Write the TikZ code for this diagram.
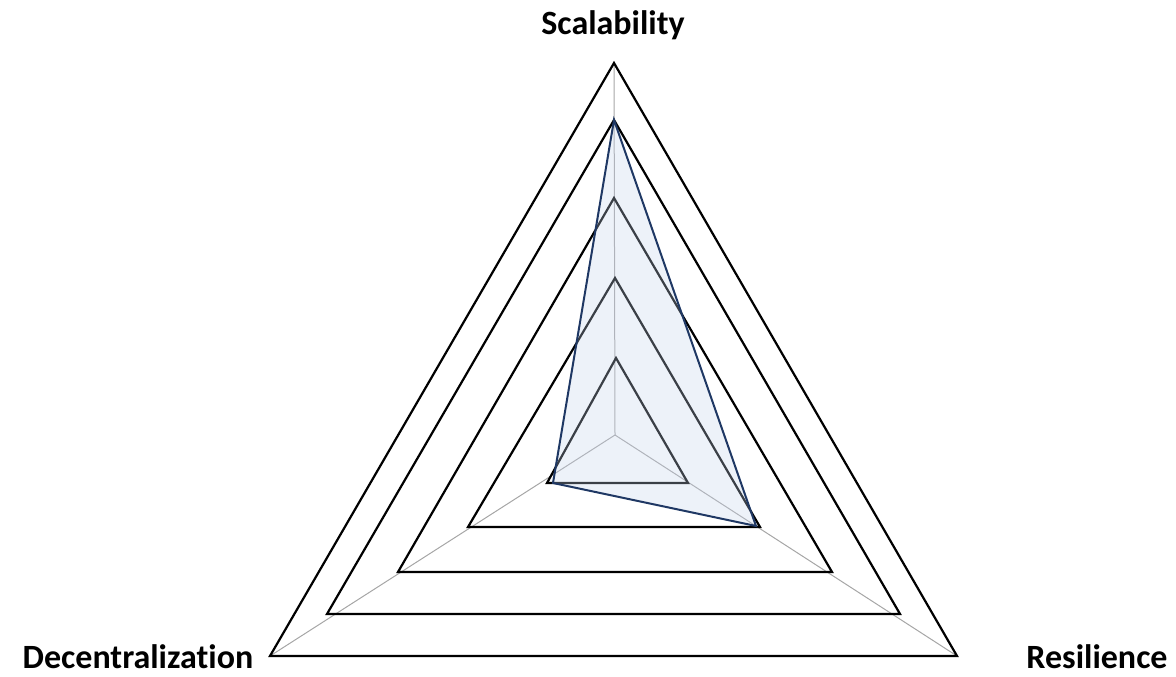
\documentclass[tikz,border=0pt]{standalone}
\usepackage{fontspec}
\setmainfont[Ligatures=NoCommon]{Carlito}
\definecolor{seriesline}{RGB}{31,56,100}
\definecolor{seriesfill}{RGB}{197,212,236}
\definecolor{spokegray}{RGB}{166,166,166}
\begin{document}
\begin{tikzpicture}[x=1pt,y=-1pt,
  gridtri/.style={draw=black,line width=2.2pt,line join=miter},
  spoke/.style={draw=spokegray,line width=1pt},
  series/.style={draw=seriesline,line width=2pt,line join=miter,fill=seriesfill,fill opacity=0.3},
  axislabel/.style={font=\bfseries\fontsize{34}{40}\selectfont,anchor=base,inner sep=0pt,text depth=0pt}]
\useasboundingbox (0,0) rectangle (1176,677);

% chart centre
\coordinate (C) at (615,435);

% grid levels: top, bottom-left, bottom-right corners
\coordinate (T1) at (616,358); \coordinate (L1) at (547,483); \coordinate (R1) at (688,483);
\coordinate (T2) at (615,278); \coordinate (L2) at (468,527); \coordinate (R2) at (760,527);
\coordinate (T3) at (614,198); \coordinate (L3) at (398,572); \coordinate (R3) at (832,572);
\coordinate (T4) at (614,120); \coordinate (L4) at (327,614); \coordinate (R4) at (900,614);
\coordinate (T5) at (614,63);  \coordinate (L5) at (270,656); \coordinate (R5) at (957,656);

% data points (scalability, decentralization, resilience)
\coordinate (D1) at (614,120);
\coordinate (D2) at (553,483);
\coordinate (D3) at (756,526);

% spokes
\draw[spoke] (C) -- (T5);
\draw[spoke] (C) -- (L5);
\draw[spoke] (C) -- (R5);

% grid triangles
\foreach \i in {1,...,5}{
  \draw[gridtri] (T\i) -- (L\i) -- (R\i) -- cycle;
}

% series polygon
\draw[series] (D1) -- (D2) -- (D3) -- cycle;

% axis labels
\node[axislabel] (scal) at (613,35) {Scalability};
\node[axislabel] (dec) at (138,668) {Decentralization};
\node[axislabel] (res) at (1097,668) {Resilience};
\end{tikzpicture}
\end{document}
